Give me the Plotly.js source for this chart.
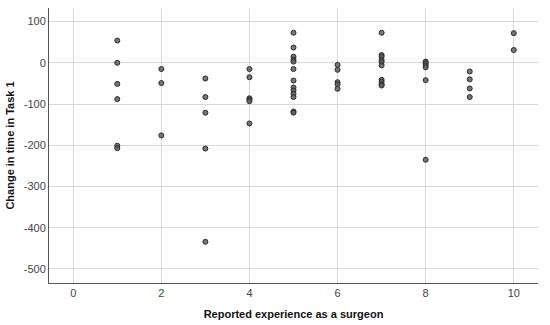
<!DOCTYPE html>
<html>
<head>
<meta charset="utf-8">
<script src="https://cdn.plot.ly/plotly-3.0.1.min.js"></script>
<style>html,body{margin:0;padding:0;background:#fff;}#chart{width:550px;height:325px;}</style>
</head>
<body>
<div id="chart"></div>
<script>
// Reported experience (x) and change in time in Task 1 (y)
const experience = [
  1,1,1,1,1,1,
  2,2,2,
  3,3,3,3,3,
  4,4,4,4,4,4,
  5,5,5,5,5,5,5,5,5,5,5,5,5,
  6,6,6,6,6,
  7,7,7,7,7,7,7,7,7,7,
  8,8,8,8,8,8,
  9,9,9,9,
  10,10
];
const changeTime = [
  54,0,-51,-88,-201,-207,
  -15,-49,-176,
  -38,-83,-121,-208,-434,
  -15,-35,-86,-89,-93,-147,
  73,37,15,8,3,-15,-43,-60,-67,-75,-83,-118,-121,
  -5,-17,-47,-52,-63,
  73,19,15,7,2,-6,-41,-46,-52,-55,
  3,-1,-6,-11,-42,-235,
  -21,-40,-62,-83,
  72,31
];
const xTicks = [0,2,4,6,8,10];
const yTicks = [100,0,-100,-200,-300,-400,-500];

const trace = {
  x: experience, y: changeTime, type: 'scatter', mode: 'markers',
  marker: {size: 5, color: 'rgba(95,95,95,0.85)', line: {color: '#2a2a2a', width: 1}},
  hoverinfo: 'skip'
};
const fontFam = 'Liberation Sans, Arial, sans-serif';
const layout = {
  width: 550, height: 325,
  margin: {l: 49, r: 12, t: 8, b: 42},
  paper_bgcolor: '#fff', plot_bgcolor: '#fff',
  showlegend: false,
  font: {family: fontFam, size: 11, color: '#444'},
  xaxis: {
    range: [-0.55, 10.55], tickvals: xTicks, ticktext: xTicks.map(String),
    showgrid: true, gridcolor: '#d9d9d9', gridwidth: 1, zeroline: false,
    showline: true, linecolor: '#555', linewidth: 1, ticks: '',
    tickfont: {family: fontFam, size: 11, color: '#444'},
    title: {text: '<b>Reported experience as a surgeon</b>', font: {family: fontFam, size: 11, color: '#111'}, standoff: 12}
  },
  yaxis: {
    range: [-534, 133], tickvals: yTicks, ticktext: yTicks.map(String),
    showgrid: true, gridcolor: '#d9d9d9', gridwidth: 1, zeroline: false,
    showline: true, linecolor: '#555', linewidth: 1, ticks: '',
    tickfont: {family: fontFam, size: 11, color: '#444'},
    title: {text: '<b>Change in time in Task 1</b>', font: {family: fontFam, size: 11, color: '#111'}, standoff: 6}
  }
};
Plotly.newPlot('chart', [trace], layout, {displayModeBar: false, staticPlot: true});
</script>
</body>
</html>
